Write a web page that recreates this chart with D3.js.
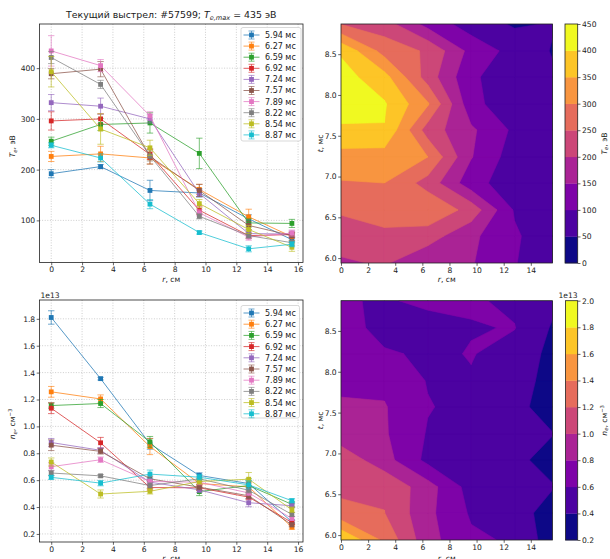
<!DOCTYPE html>
<html><head><meta charset="utf-8">
<script src="https://cdn.jsdelivr.net/npm/d3@7"></script>
<style>
body{margin:0;background:#fff}
svg{display:block}
text{font-family:"DejaVu Sans",sans-serif;fill:#1a1a1a}
</style>
</head><body><svg id="c" width="610" height="559"></svg>
<script>
// ---------------- data ----------------
const radii = [0, 3.2, 6.4, 9.6, 12.8, 15.6];
const times = [5.94, 6.27, 6.59, 6.92, 7.24, 7.57, 7.89, 8.22, 8.54, 8.87];
const seriesLabels = ["5.94 мс","6.27 мс","6.59 мс","6.92 мс","7.24 мс","7.57 мс","7.89 мс","8.22 мс","8.54 мс","8.87 мс"];
const seriesColors = ["#1f77b4","#ff7f0e","#2ca02c","#d62728","#9467bd","#8c564b","#e377c2","#7f7f7f","#bcbd22","#17becf"];

// electron temperature, eV (one row per time, one column per radius)
const teValues = [
  [192, 206, 159, 154, 103, 62],
  [226, 231, 223, 161, 107, 68],
  [256, 289, 292, 232,  95, 94],
  [296, 300, 230, 120,  70, 72],
  [332, 325, 300, 153,  74, 73],
  [389, 398, 226, 159,  90, 70],
  [434, 405, 306, 115,  67, 75],
  [421, 368, 227, 108,  70, 56],
  [393, 280, 243, 133,  82, 47],
  [248, 223, 132,  76,  44, 53]
];
const teErrors = [
  [ 8,  4, 20,  8,  8, 5],
  [10, 15, 12, 10, 15, 8],
  [ 8, 12, 20, 30,  8, 8],
  [18, 10, 10,  8,  5, 5],
  [16, 16,  8,  6,  5, 6],
  [10, 15, 15, 12,  8, 5],
  [30, 12,  8,  6,  6, 6],
  [12,  8, 10,  5,  5, 5],
  [30, 30, 15,  8,  8, 8],
  [ 5,  8,  9,  3,  6, 5]
];
// electron density, units of 1e13 cm^-3
const neValues = [
  [1.810, 1.355, 0.870, 0.635, 0.575, 0.290],
  [1.257, 1.204, 0.850, 0.575, 0.550, 0.250],
  [1.155, 1.170, 0.885, 0.515, 0.560, 0.420],
  [1.135, 0.878, 0.545, 0.543, 0.474, 0.285],
  [0.880, 0.822, 0.585, 0.528, 0.432, 0.410],
  [0.860, 0.814, 0.610, 0.548, 0.484, 0.268],
  [0.700, 0.752, 0.590, 0.585, 0.505, 0.315],
  [0.653, 0.632, 0.560, 0.610, 0.525, 0.345],
  [0.735, 0.497, 0.517, 0.590, 0.607, 0.380],
  [0.621, 0.578, 0.645, 0.622, 0.565, 0.447]
];
const neErrors = [
  [0.050, 0.010, 0.040, 0.020, 0.020, 0.015],
  [0.040, 0.030, 0.060, 0.020, 0.030, 0.015],
  [0.020, 0.030, 0.040, 0.030, 0.050, 0.020],
  [0.040, 0.040, 0.020, 0.020, 0.020, 0.015],
  [0.030, 0.020, 0.020, 0.020, 0.030, 0.015],
  [0.040, 0.020, 0.020, 0.020, 0.020, 0.015],
  [0.030, 0.020, 0.020, 0.020, 0.020, 0.015],
  [0.020, 0.010, 0.020, 0.020, 0.020, 0.015],
  [0.030, 0.030, 0.020, 0.020, 0.050, 0.020],
  [0.015, 0.020, 0.030, 0.020, 0.030, 0.015]
];
const lineTicksX = [0, 2, 4, 6, 8, 10, 12, 14, 16];
const teTicksY = [100, 200, 300, 400];
const neTicksY = [0.2, 0.4, 0.6, 0.8, 1.0, 1.2, 1.4, 1.6, 1.8];
const mapTicksX = [0, 2, 4, 6, 8, 10, 12, 14];
const mapTicksY = [6.0, 6.5, 7.0, 7.5, 8.0, 8.5];
const teLevels = [0, 50, 100, 150, 200, 250, 300, 350, 400, 450];
const neLevels = [0.2, 0.4, 0.6, 0.8, 1.0, 1.2, 1.4, 1.6, 1.8, 2.0];
const shotNumber = "57599";
const teMax = "435";

// ---------------- drawing ----------------
const svg = d3.select("#c");
const FS_TICK = 7.6, FS_LABEL = 7.6, FS_LEG = 8, FS_TITLE = 9.4;
const tickLen = 2.8;

function gridLines(g, x, y, xt, yt, box) {
  const [l, r, t, b] = box;
  g.append("g").selectAll("line").data(xt).join("line")
    .attr("x1", d => x(d)).attr("x2", d => x(d)).attr("y1", t).attr("y2", b)
    .attr("stroke", "#b8b8b8").attr("stroke-width", 0.7).attr("stroke-dasharray", "1,1.6");
  g.append("g").selectAll("line").data(yt).join("line")
    .attr("y1", d => y(d)).attr("y2", d => y(d)).attr("x1", l).attr("x2", r)
    .attr("stroke", "#b8b8b8").attr("stroke-width", 0.7).attr("stroke-dasharray", "1,1.6");
}
function drawAxes(g, x, y, xt, yt, fmtX, fmtY, box) {
  const [l, r, t, b] = box;
  const ax = g.append("g").attr("transform", `translate(0,${b})`)
    .call(d3.axisBottom(x).tickValues(xt).tickFormat(fmtX).tickSizeInner(tickLen).tickSizeOuter(0).tickPadding(1.5));
  const ay = g.append("g").attr("transform", `translate(${l},0)`)
    .call(d3.axisLeft(y).tickValues(yt).tickFormat(fmtY).tickSizeInner(tickLen).tickSizeOuter(0).tickPadding(1.5));
  [ax, ay].forEach(a => {
    a.select(".domain").remove();
    a.selectAll("line").attr("stroke", "#222").attr("stroke-width", 0.7);
    a.selectAll("text").attr("font-size", FS_TICK).attr("font-family", "DejaVu Sans").attr("fill", "#262626");
  });
  g.append("rect").attr("x", l).attr("y", t).attr("width", r - l).attr("height", b - t)
    .attr("fill", "none").attr("stroke", "#222").attr("stroke-width", 0.8);
}

function rotLabel(g, cx, cy, parts) {
  const tx = g.append("text").attr("transform", `translate(${cx},${cy}) rotate(-90)`)
    .attr("text-anchor", "middle").attr("font-size", FS_LABEL);
  parts(tx);
}
function xLabel(g, cx, by) {
  const tx = g.append("text").attr("x", cx).attr("y", by).attr("text-anchor", "middle").attr("font-size", FS_LABEL);
  tx.append("tspan").attr("font-style", "italic").text("r");
  tx.append("tspan").text(", см");
}
function teLabel(tx) {
  tx.append("tspan").attr("font-style", "italic").text("T");
  tx.append("tspan").attr("font-style", "italic").attr("font-size", FS_LABEL * 0.7).attr("dy", 1.5).text("e");
  tx.append("tspan").attr("dy", -1.5).text(", эВ");
}
function neLabel(tx) {
  tx.append("tspan").attr("font-style", "italic").text("n");
  tx.append("tspan").attr("font-style", "italic").attr("font-size", FS_LABEL * 0.7).attr("dy", 1.5).text("e");
  tx.append("tspan").attr("dy", -1.5).text(", см");
  tx.append("tspan").attr("font-size", FS_LABEL * 0.7).attr("dy", -3).text("−3");
}
function tLabel(tx) {
  tx.append("tspan").attr("font-style", "italic").text("t");
  tx.append("tspan").text(", мс");
}

function linePanel(box, yDomain, values, errors, yTicks, fmtY, legBox, yLab, offsetText, xLabY) {
  const [l, r, t, b] = box;
  const g = svg.append("g");
  const x = d3.scaleLinear().domain([-0.76, 16.32]).range([l, r]);
  const y = d3.scaleLinear().domain(yDomain).range([b, t]);
  gridLines(g, x, y, lineTicksX, yTicks, box);
  const line = d3.line().x(d => x(d[0])).y(d => y(d[1]));
  values.forEach((row, si) => {
    const c = seriesColors[si];
    const pts = row.map((v, i) => [radii[i], v, errors[si][i]]);
    const sg = g.append("g");
    sg.append("path").attr("d", line(pts)).attr("fill", "none").attr("stroke", c)
      .attr("stroke-width", 1).attr("stroke-opacity", 0.75);
    pts.forEach(p => {
      const px = x(p[0]), y0 = y(p[1] - p[2]), y1 = y(p[1] + p[2]);
      sg.append("line").attr("x1", px).attr("x2", px).attr("y1", y0).attr("y2", y1)
        .attr("stroke", c).attr("stroke-width", 0.9).attr("stroke-opacity", 0.7);
      [y0, y1].forEach(yy => sg.append("line").attr("x1", px - 3.2).attr("x2", px + 3.2).attr("y1", yy).attr("y2", yy)
        .attr("stroke", c).attr("stroke-width", 0.9).attr("stroke-opacity", 0.7));
      sg.append("rect").attr("x", px - 2.4).attr("y", y(p[1]) - 2.4).attr("width", 4.8).attr("height", 4.8)
        .attr("fill", c);
    });
  });
  drawAxes(g, x, y, lineTicksX, yTicks, d3.format("d"), fmtY, box);
  // legend
  const [lx, ly, lw, lh, lsp] = legBox;
  const lg = g.append("g");
  lg.append("rect").attr("x", lx).attr("y", ly).attr("width", lw).attr("height", lh).attr("rx", 2)
    .attr("fill", "#fff").attr("fill-opacity", 0.85).attr("stroke", "#cfcfcf").attr("stroke-width", 0.8);
  seriesLabels.forEach((s, i) => {
    const cy = ly + 7.5 + i * lsp, c = seriesColors[i];
    lg.append("line").attr("x1", lx + 2.5).attr("x2", lx + 18.5).attr("y1", cy).attr("y2", cy)
      .attr("stroke", c).attr("stroke-width", 1).attr("stroke-opacity", 0.75);
    lg.append("line").attr("x1", lx + 10.5).attr("x2", lx + 10.5).attr("y1", cy - 4).attr("y2", cy + 4)
      .attr("stroke", c).attr("stroke-width", 0.9).attr("stroke-opacity", 0.7);
    [cy - 4, cy + 4].forEach(yy => lg.append("line").attr("x1", lx + 7.5).attr("x2", lx + 13.5).attr("y1", yy).attr("y2", yy)
      .attr("stroke", c).attr("stroke-width", 0.9).attr("stroke-opacity", 0.7));
    lg.append("rect").attr("x", lx + 8.1).attr("y", cy - 2.4).attr("width", 4.8).attr("height", 4.8).attr("fill", c);
    lg.append("text").attr("x", lx + 24).attr("y", cy + 2.9).attr("font-size", FS_LEG).text(s);
  });
  rotLabel(g, 15, (t + b) / 2 + 3, yLab);
  xLabel(g, (l + r) / 2, xLabY);
  if (offsetText) g.append("text").attr("x", l + 1).attr("y", t - 2.5).attr("font-size", FS_TICK).text(offsetText);
  return g;
}

function clipPoly(poly, level) {
  const out = [];
  for (let k = 0; k < poly.length; k++) {
    const a = poly[k], b = poly[(k + 1) % poly.length];
    const ina = a[2] >= level, inb = b[2] >= level;
    if (ina) out.push(a);
    if (ina !== inb) {
      const s = (level - a[2]) / (b[2] - a[2]);
      out.push([a[0] + s * (b[0] - a[0]), a[1] + s * (b[1] - a[1]), level]);
    }
  }
  return out;
}

function mapPanel(box, values, levels, cbox, cLab, cFmt, offsetText, xLabY) {
  const [l, r, t, b] = box;
  const g = svg.append("g");
  const x = d3.scaleLinear().domain([radii[0], radii[radii.length - 1]]).range([l, r]);
  const y = d3.scaleLinear().domain([times[0], times[times.length - 1]]).range([b, t]);
  const nb = levels.length - 1;
  const col = i => d3.interpolatePlasma(i / (nb - 1));
  const clipId = "clip" + Math.round(t);
  g.append("clipPath").attr("id", clipId).append("rect").attr("x", l).attr("y", t).attr("width", r - l).attr("height", b - t);
  const cg = g.append("g").attr("clip-path", `url(#${clipId})`);
  // filled contours: region value >= level k painted with band colour k, stacked upward
  for (let k = 0; k < nb; k++) {
    const lo = levels[k];
    let d = "";
    for (let j = 0; j < times.length - 1; j++) {
      for (let i = 0; i < radii.length - 1; i++) {
        let poly = [
          [radii[i], times[j], values[j][i]],
          [radii[i + 1], times[j], values[j][i + 1]],
          [radii[i + 1], times[j + 1], values[j + 1][i + 1]],
          [radii[i], times[j + 1], values[j + 1][i]]
        ];
        if (k > 0) poly = clipPoly(poly, lo);
        if (poly.length >= 3) d += "M" + poly.map(p => x(p[0]).toFixed(2) + "," + y(p[1]).toFixed(2)).join("L") + "Z";
      }
    }
    if (d) cg.append("path").attr("d", d).attr("fill", col(k)).attr("stroke", col(k)).attr("stroke-width", 0.6)
      .attr("stroke-linejoin", "round");
  }
  drawAxes(g, x, y, mapTicksX, mapTicksY, d3.format("d"), d3.format(".1f"), box);
  rotLabel(g, 323, (t + b) / 2, tLabel);
  xLabel(g, (l + r) / 2, xLabY);
  // colorbar
  const [cl, cr, ct, cb] = cbox;
  const cy = d3.scaleLinear().domain([levels[0], levels[nb]]).range([cb, ct]);
  for (let k = 0; k < nb; k++) {
    g.append("rect").attr("x", cl).attr("y", cy(levels[k + 1])).attr("width", cr - cl)
      .attr("height", cy(levels[k]) - cy(levels[k + 1]) + 0.3).attr("fill", col(k));
  }
  g.append("rect").attr("x", cl).attr("y", ct).attr("width", cr - cl).attr("height", cb - ct)
    .attr("fill", "none").attr("stroke", "#222").attr("stroke-width", 0.8);
  const ca = g.append("g").attr("transform", `translate(${cr},0)`)
    .call(d3.axisRight(cy).tickValues(levels).tickFormat(cFmt).tickSizeInner(tickLen).tickSizeOuter(0).tickPadding(1.5));
  ca.select(".domain").remove();
  ca.selectAll("line").attr("stroke", "#222").attr("stroke-width", 0.7);
  ca.selectAll("text").attr("font-size", FS_TICK).attr("font-family", "DejaVu Sans").attr("fill", "#262626");
  rotLabel(g, 606.5, (ct + cb) / 2, cLab);
  if (offsetText) g.append("text").attr("x", cr).attr("y", ct - 2.5).attr("text-anchor", "end").attr("font-size", FS_TICK).text(offsetText);
}

// top-left: Te profiles
linePanel([39.5, 303, 24, 262.5], [17, 487], teValues, teErrors, teTicksY, d3.format("d"),
  [241, 27.5, 60, 113.5, 11.1], teLabel, null, 282);
// bottom-left: ne profiles
linePanel([39.5, 303, 300, 542], [0.14, 1.94], neValues, neErrors, neTicksY, d3.format(".1f"),
  [241, 305.5, 58.5, 112.5, 11.2], neLabel, "1e13", 561);
// right: contour maps
mapPanel([341, 552.5, 24, 263], teValues, teLevels, [565, 577.7, 24, 263], teLabel, d3.format("d"), null, 282);
mapPanel([341, 552.5, 300.7, 540], neValues, neLevels, [565.5, 577.7, 300.7, 540], neLabel, d3.format(".1f"), "1e13", 561);

// title
const title = svg.append("text").attr("x", 171.3).attr("y", 18).attr("text-anchor", "middle").attr("font-size", FS_TITLE);
title.append("tspan").text(`Текущий выстрел: #${shotNumber}; `);
title.append("tspan").attr("font-style", "italic").text("T");
title.append("tspan").attr("font-style", "italic").attr("font-size", FS_TITLE * 0.7).attr("dy", 2).text("e,max");
title.append("tspan").attr("dy", -2).text(` = ${teMax} эВ`);
</script>
</body></html>
